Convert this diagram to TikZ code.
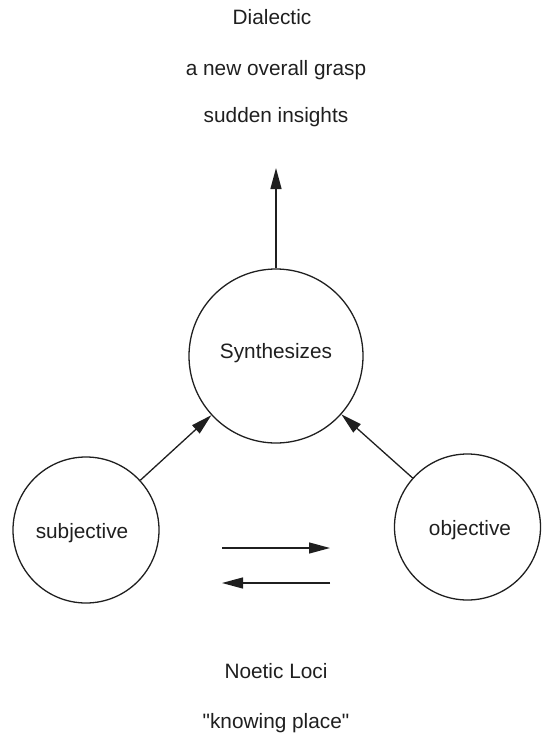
\documentclass[tikz,border=0pt]{standalone}
\usepackage{fontspec}
\setmainfont{Liberation Sans}[Ligatures=TeXOff]
\usetikzlibrary{arrows.meta}
\begin{document}
\begin{tikzpicture}[x=1pt,y=-1pt,
  every node/.style={font=\fontsize{20.8}{24}\selectfont, text=black!88},
  locus/.style={draw=black!88, circle, line width=1.3pt, inner sep=0pt},
  bigcirc/.style={locus, minimum size=174pt},
  smallcirc/.style={locus, minimum size=146pt},
  conn/.style={draw=black!88, line width=1.3pt, -{Triangle[length=21pt,width=11pt]}},
  label/.style={anchor=base}
]
\useasboundingbox (0,0) rectangle (545,734);
% top labels
\node[label] (t1) at (272,24) {Dialectic};
\node[label] (t2) at (276,75) {a new overall grasp};
\node[label] (t3) at (276,122) {sudden insights};
% circles
\node[bigcirc] (syn) at (276,356) {};
\node[label] (synt) at (276,358) {Synthesizes};
\node[smallcirc] (sub) at (86,530) {};
\node[label] (subt) at (82,538) {subjective};
\node[smallcirc] (obj) at (467.5,527) {};
\node[label] (objt) at (470,535) {objective};
% free ends
\coordinate (up) at (276,168);
\coordinate (ra) at (222,548);
\coordinate (rb) at (330,548);
\coordinate (la) at (330,583);
\coordinate (lb) at (222,583);
% connectors
\draw[conn] (syn.north) -- (up);
\draw[conn] (sub) -- (syn);
\draw[conn] (obj) -- (syn);
\draw[conn] (ra) -- (rb);
\draw[conn] (la) -- (lb);
% bottom labels
\node[label] (b1) at (276,678) {Noetic Loci};
\node[label] (b2) at (276,728) {"knowing place"};
\end{tikzpicture}
\end{document}
